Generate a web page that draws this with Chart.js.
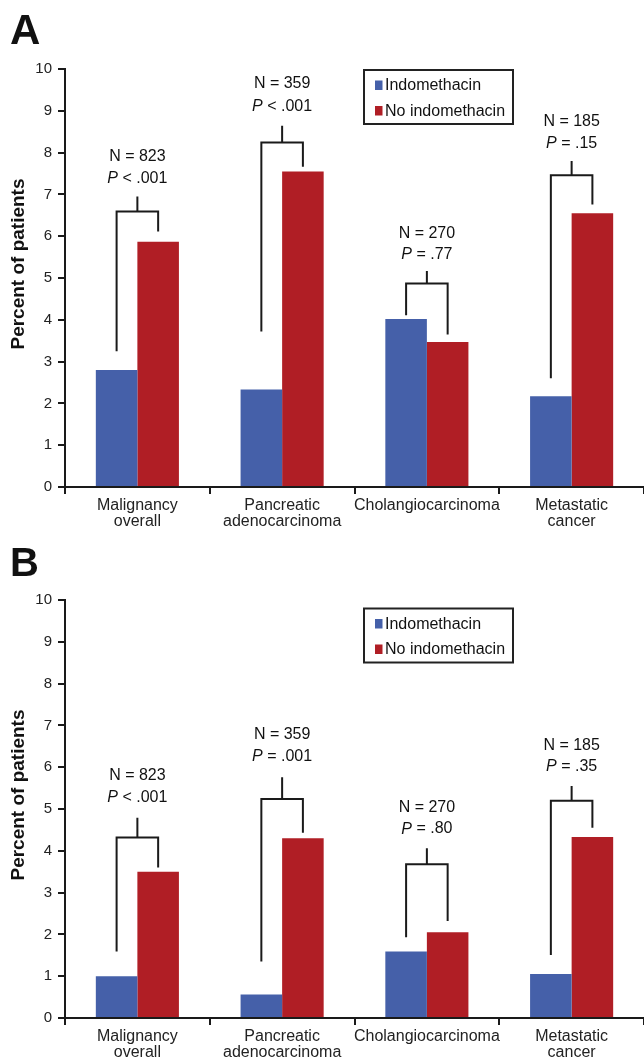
<!DOCTYPE html>
<html>
<head>
<meta charset="utf-8">
<script src="https://cdn.jsdelivr.net/npm/chart.js@4.4.1/dist/chart.umd.min.js"></script>
<style>
  body { margin: 0; background: #fff; overflow: hidden; }
  .panel { position: relative; width: 644px; }
  #panelA { height: 531px; }
  #panelB { height: 530px; }
</style>
</head>
<body>
<div class="panel" id="panelA"><canvas id="chartA"></canvas></div>
<div class="panel" id="panelB"><canvas id="chartB"></canvas></div>
<script>
// categories and series
const categories = [['Malignancy', 'overall'], ['Pancreatic', 'adenocarcinoma'], 'Cholangiocarcinoma', ['Metastatic', 'cancer']];
const seriesNames = ['Indomethacin', 'No indomethacin'];
const nLabels = ['N = 823', 'N = 359', 'N = 270', 'N = 185'];

// panel A: percent of patients
const indoA = [2.80, 2.33, 4.02, 2.17];
const noIndoA = [5.87, 7.55, 3.47, 6.55];
const pLabelsA = ['< .001', '< .001', '= .77', '= .15'];

// panel B
const indoB = [1.00, 0.56, 1.59, 1.05];
const noIndoB = [3.50, 4.30, 2.05, 4.33];
const pLabelsB = ['< .001', '= .001', '= .80', '= .35'];

// bracket levels (in percent units)
const bracketA = [6.59, 8.24, 4.87, 7.46];
const stemA = [6.95, 8.64, 5.17, 7.80];
const legLeftA = [3.25, 3.72, 4.11, 2.60];
const legRightA = [6.11, 7.66, 3.65, 6.76];
const nLineA = [7.90, 9.64, 6.07, 8.74];
const pLineA = [7.39, 9.11, 5.55, 8.22];

const bracketB = [4.32, 5.24, 3.68, 5.20];
const stemB = [4.79, 5.76, 4.06, 5.55];
const legLeftB = [1.59, 1.35, 1.93, 1.51];
const legRightB = [3.60, 4.43, 2.32, 4.55];
const nLineB = [5.79, 6.79, 5.03, 6.51];
const pLineB = [5.27, 6.25, 4.52, 6.01];

const BLUE = '#4560a9';
const RED = '#b01e25';
const FONT = '"Liberation Sans", Arial, Helvetica, sans-serif';

const annotations = {
  id: 'annotations',
  afterDatasetsDraw(chart, args, o) {
    const ctx = chart.ctx;
    const y = chart.scales.y;
    const blue = chart.getDatasetMeta(0).data;
    const red = chart.getDatasetMeta(1).data;
    ctx.save();
    ctx.strokeStyle = '#1a1a1a';
    ctx.lineWidth = 2;
    ctx.lineJoin = 'miter';
    for (let i = 0; i < categories.length; i++) {
      const xl = blue[i].x, xr = red[i].x, xc = (xl + xr) / 2;
      const yb = y.getPixelForValue(o.bracket[i]);
      ctx.beginPath();
      ctx.moveTo(xl, y.getPixelForValue(o.legLeft[i]));
      ctx.lineTo(xl, yb);
      ctx.lineTo(xr, yb);
      ctx.lineTo(xr, y.getPixelForValue(o.legRight[i]));
      ctx.moveTo(xc, yb);
      ctx.lineTo(xc, y.getPixelForValue(o.stem[i]));
      ctx.stroke();

      ctx.fillStyle = '#111';
      ctx.textBaseline = 'middle';
      ctx.textAlign = 'center';
      ctx.font = '16px ' + FONT;
      ctx.fillText(nLabels[i], xc, y.getPixelForValue(o.nLine[i]));

      const rest = ' ' + o.pText[i];
      const wRest = ctx.measureText(rest).width;
      ctx.font = 'italic 16px ' + FONT;
      const wP = ctx.measureText('P').width;
      const x0 = xc - (wP + wRest) / 2;
      const yp = y.getPixelForValue(o.pLine[i]);
      ctx.textAlign = 'left';
      ctx.fillText('P', x0, yp);
      ctx.font = '16px ' + FONT;
      ctx.fillText(rest, x0 + wP, yp);
    }
    ctx.restore();
  },
  afterDraw(chart, args, o) {
    const ctx = chart.ctx;
    ctx.save();
    // panel letter
    ctx.fillStyle = '#111';
    ctx.font = 'bold ' + o.letterSize + 'px ' + FONT;
    ctx.textAlign = 'left';
    ctx.textBaseline = 'alphabetic';
    ctx.fillText(o.letter, 10, o.letterBase);

    // y title
    ctx.save();
    ctx.translate(19, 264);
    ctx.rotate(-Math.PI / 2);
    ctx.font = 'bold 19px ' + FONT;
    ctx.textAlign = 'center';
    ctx.textBaseline = 'middle';
    ctx.fillText('Percent of patients', 0, 0);
    ctx.restore();

    // legend box
    const top = o.legendTop;
    ctx.strokeStyle = '#222';
    ctx.lineWidth = 2;
    ctx.strokeRect(364, top + 1, 149, 54);
    ctx.font = '16px ' + FONT;
    ctx.textBaseline = 'middle';
    chart.data.datasets.forEach((ds, k) => {
      const cy = top + 16.5 + k * 25.5;
      ctx.fillStyle = ds.backgroundColor;
      ctx.fillRect(375, cy - 5, 7.5, 9.5);
      ctx.fillStyle = '#111';
      ctx.fillText(ds.label, 385, cy + 0.5);
    });
    ctx.restore();
  }
};

function makeChart(id, indo, noIndo, xHeight, ann) {
  return new Chart(document.getElementById(id), {
    type: 'bar',
    data: {
      labels: categories,
      datasets: [
        { label: seriesNames[0], data: indo, backgroundColor: BLUE },
        { label: seriesNames[1], data: noIndo, backgroundColor: RED }
      ]
    },
    options: {
      responsive: true,
      maintainAspectRatio: false,
      animation: false,
      layout: { padding: { top: 69, left: 0, right: 0, bottom: 0 } },
      datasets: { bar: { categoryPercentage: 0.574, barPercentage: 1.0, borderWidth: 0 } },
      plugins: {
        legend: { display: false },
        tooltip: { enabled: false },
        annotations: ann
      },
      scales: {
        x: {
          grid: { drawOnChartArea: false, drawTicks: true, tickLength: 7, color: '#1a1a1a', lineWidth: 2, offset: true },
          border: { display: true, color: '#1a1a1a', width: 2 },
          ticks: {
            color: '#222', padding: 4, maxRotation: 0, autoSkip: false,
            font: { family: FONT, size: 16, lineHeight: 1.0 }
          },
          afterFit: (s) => { s.height = xHeight; }
        },
        y: {
          min: 0, max: 10,
          grid: { drawOnChartArea: false, drawTicks: true, tickLength: 7, color: '#1a1a1a', lineWidth: 2 },
          border: { display: true, color: '#1a1a1a', width: 2 },
          ticks: { stepSize: 1, color: '#222', padding: 6, font: { family: FONT, size: 15 } },
          afterFit: (s) => { s.width = 65; }
        }
      }
    },
    plugins: [annotations]
  });
}

makeChart('chartA', indoA, noIndoA, 44, {
  bracket: bracketA, stem: stemA, legLeft: legLeftA, legRight: legRightA,
  nLine: nLineA, pLine: pLineA, pText: pLabelsA,
  letter: 'A', letterSize: 42, letterBase: 44, legendTop: 69
});
makeChart('chartB', indoB, noIndoB, 43, {
  bracket: bracketB, stem: stemB, legLeft: legLeftB, legRight: legRightB,
  nLine: nLineB, pLine: pLineB, pText: pLabelsB,
  letter: 'B', letterSize: 40, letterBase: 45, legendTop: 76.5
});
</script>
</body>
</html>
